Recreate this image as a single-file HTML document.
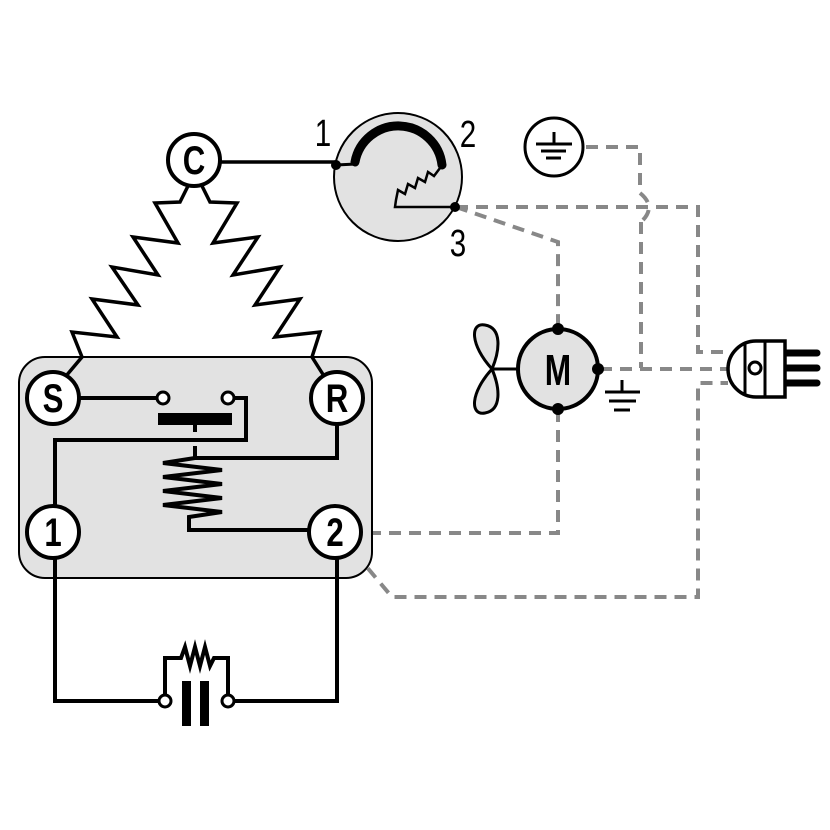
<!DOCTYPE html>
<html><head><meta charset="utf-8"><style>
html,body{margin:0;padding:0;background:#fff;}
svg{display:block;}
text{font-family:"Liberation Sans",sans-serif;}
</style></head><body>
<svg width="830" height="830" viewBox="0 0 830 830" xmlns="http://www.w3.org/2000/svg">
<rect width="830" height="830" fill="#fff"/>
<g fill="none" stroke="#888" stroke-width="4" stroke-dasharray="12 8">
  <path d="M586,147 H640 V193"/>
  <path d="M640,193 Q656,206 643,220"/>
  <path d="M641,222 V368"/>
  <path d="M600,369 H728"/>
  <path d="M456,207 H698 V352 H728"/>
  <path d="M456,207 L558,242 V328"/>
  <path d="M558,410 V533 H362"/>
  <path d="M355,553 L392,597 H698 V383 H728"/>
</g>
<rect x="19" y="357" width="353" height="221" rx="26" fill="#e2e2e2" stroke="#000" stroke-width="2"/>
<g fill="none" stroke="#000" stroke-width="3.5" stroke-linejoin="miter">
  <path d="M188,186 L180,202 L155,203 L178,243 L133,237 L158,275 L112,267 L138,305 L92,299 L117,337 L72,332 L82,357 L66,376"/>
  <path d="M202,186 L210,202 L237,203 L213,243 L258,237 L233,275 L280,267 L255,305 L300,299 L275,337 L320,332 L312,357 L324,376"/>
  <line x1="220" y1="162" x2="336" y2="162"/>
</g>
<g fill="none" stroke="#000" stroke-width="4">
  <path d="M80,398 H157"/>
  <path d="M234,398 H246 V440 H55 V506"/>
  <path d="M337,425 V458 H195"/>
  <path d="M195,458 L163,463 L222,470 L163,477 L222,484 L163,491 L222,498 L163,505 L222,512 L189,517 V530 H308"/>
  <path d="M195,425 V432 M195,446 V458"/>
  <path d="M55,559 V701 H159"/>
  <path d="M234,701 H337 V559"/>
  <path d="M165,695 V658 H181 L185,647 L190,666 L195,647 L200,666 L205,647 L210,666 L214,658 H228 V695"/>
</g>
<rect x="158" y="413" width="74" height="12" fill="#000"/>
<rect x="182" y="681" width="9" height="45" fill="#000"/>
<rect x="200" y="681" width="9" height="45" fill="#000"/>
<g fill="#fff" stroke="#000" stroke-width="3">
  <circle cx="163" cy="398" r="6"/>
  <circle cx="228" cy="398" r="6"/>
  <circle cx="165" cy="701" r="6"/>
  <circle cx="228" cy="701" r="6"/>
</g>
<g fill="#fff" stroke="#000" stroke-width="4">
  <circle cx="194" cy="160" r="26"/>
  <circle cx="53" cy="398" r="26"/>
  <circle cx="337" cy="398" r="26"/>
  <circle cx="53" cy="532" r="26"/>
  <circle cx="335" cy="532" r="26"/>
</g>
<g font-weight="bold" font-size="40" text-anchor="middle" fill="#000">
  <text x="194" y="174" transform="translate(194 0) scale(0.78 1) translate(-194 0)">C</text>
  <text x="53" y="412" transform="translate(53 0) scale(0.78 1) translate(-53 0)">S</text>
  <text x="337" y="412" transform="translate(337 0) scale(0.78 1) translate(-337 0)">R</text>
  <text x="53" y="546" transform="translate(53 0) scale(0.78 1) translate(-53 0)">1</text>
  <text x="335" y="546" transform="translate(335 0) scale(0.78 1) translate(-335 0)">2</text>
</g>
<circle cx="398" cy="177" r="64" fill="#e2e2e2" stroke="#000" stroke-width="2"/>
<path d="M355,162 A44,44 0 0 1 442,165" fill="none" stroke="#000" stroke-width="9" stroke-linecap="round"/>
<path d="M336,165 L356,164" stroke="#000" stroke-width="3" fill="none"/>
<path d="M440,168 L434,176 L428,172 L425,182 L418,178 L415,188 L408,184 L405,194 L398,190 L396,200 L395,207 H455" stroke="#000" stroke-width="2.5" fill="none"/>
<circle cx="336" cy="165" r="5" fill="#000"/>
<circle cx="455" cy="207" r="5" fill="#000"/>
<g font-size="38" fill="#000" text-anchor="middle">
  <text x="323" y="146" transform="translate(323 0) scale(0.78 1) translate(-323 0)">1</text>
  <text x="468" y="147" transform="translate(468 0) scale(0.78 1) translate(-468 0)">2</text>
  <text x="458" y="256" transform="translate(458 0) scale(0.78 1) translate(-458 0)">3</text>
</g>
<circle cx="554" cy="147" r="29" fill="#fff" stroke="#000" stroke-width="3"/>
<g stroke="#000" stroke-width="3">
  <line x1="554" y1="132" x2="554" y2="144"/>
  <line x1="536" y1="144" x2="572" y2="144"/>
  <line x1="541" y1="151" x2="566" y2="151"/>
  <line x1="546" y1="158" x2="561" y2="158"/>
</g>
<path d="M518,369 H492" stroke="#000" stroke-width="3"/>
<path d="M492,369 C470,345 470,322 485,325 C502,328 500,350 492,369 C470,393 470,416 485,413 C502,410 500,388 492,369 Z" fill="#e2e2e2" stroke="#000" stroke-width="3"/>
<circle cx="558" cy="369" r="40" fill="#e2e2e2" stroke="#000" stroke-width="4"/>
<text x="558" y="385" font-size="44" font-weight="bold" text-anchor="middle" transform="translate(558 0) scale(0.72 1) translate(-558 0)">M</text>
<circle cx="558" cy="329" r="6" fill="#000"/>
<circle cx="558" cy="409" r="6" fill="#000"/>
<circle cx="598" cy="369" r="6" fill="#000"/>
<g stroke="#000" stroke-width="3">
  <line x1="622" y1="380" x2="622" y2="392"/>
  <line x1="605" y1="392" x2="640" y2="392"/>
  <line x1="609" y1="401" x2="636" y2="401"/>
  <line x1="614" y1="410" x2="630" y2="410"/>
</g>
<g stroke="#000" stroke-width="7" stroke-linecap="round">
  <line x1="785" y1="353" x2="817" y2="353"/>
  <line x1="785" y1="368" x2="817" y2="368"/>
  <line x1="785" y1="383" x2="817" y2="383"/>
</g>
<path d="M756,341 H785 V397 H756 A28,28 0 0 1 756,341 Z" fill="#fff" stroke="#000" stroke-width="3.5"/>
<line x1="745" y1="342" x2="745" y2="396" stroke="#000" stroke-width="3"/>
<line x1="765" y1="342" x2="765" y2="396" stroke="#000" stroke-width="3"/>
<circle cx="755" cy="368" r="6" fill="#fff" stroke="#000" stroke-width="3"/>
</svg>
</body></html>
